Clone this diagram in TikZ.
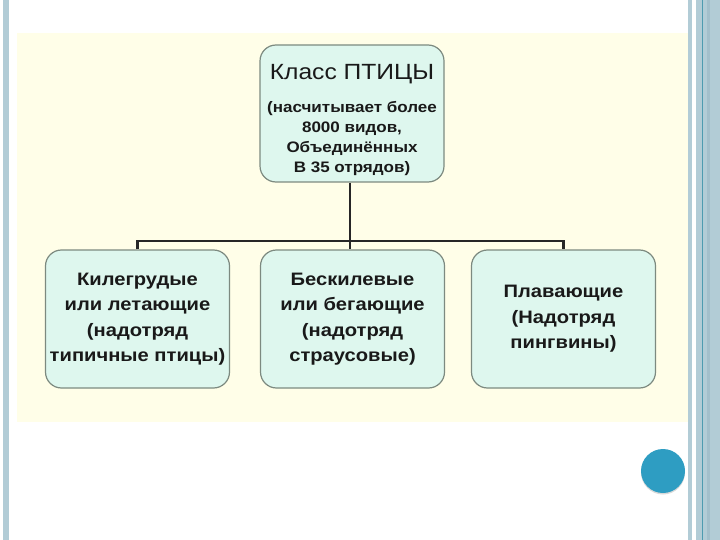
\documentclass[tikz,border=0pt]{standalone}
\usepackage{fontspec}
\setmainfont{Liberation Sans}
\newfontfamily\widefont[FakeStretch=1.12]{Liberation Sans}
\definecolor{barblue}{HTML}{B2CCD6}
\definecolor{bardark}{HTML}{4E9BB0}
\definecolor{barmid}{HTML}{A3BFCB}
\definecolor{paleyellow}{HTML}{FFFEE8}
\definecolor{boxfill}{HTML}{DEF7EE}
\definecolor{boxline}{HTML}{7D8A80}
\definecolor{dotblue}{HTML}{2E9DC2}
\tikzset{
  birdbox/.style={draw=boxline, line width=1.2pt, fill=boxfill, rounded corners=16pt,
    minimum width=184pt, minimum height=138pt, align=center, inner sep=0pt,
    text=black!90, font=\widefont\fontsize{18}{25.5}\selectfont\bfseries},
  topbox/.style={birdbox, minimum height=137pt},
  link/.style={draw=black!85, line width=2.6pt}
}
\newcommand{\smallline}[1]{{\fontsize{15.2}{20}\selectfont #1}}
\begin{document}
\begin{tikzpicture}[x=1pt,y=-1pt]
\useasboundingbox (0,0) rectangle (720,540);
\fill[white] (0,0) rectangle (720,540);
% side bars
\fill[barblue] (3,0) rectangle (9,540);
\fill[barblue] (688,0) rectangle (692,540);
\fill[barblue] (696,0) rectangle (720,540);
\fill[bardark] (701.7,0) rectangle (703.3,540);
\fill[barmid] (706.5,0) rectangle (710,540);
% pale area
\fill[paleyellow] (17,33) rectangle (688,422);
% nodes
\node[topbox] (top) at (352,113.5) {\rule{0pt}{28pt}{\fontsize{22}{24}\selectfont\mdseries Класс ПТИЦЫ}\\[7pt]
  \smallline{(насчитывает более}\\[-5.5pt]
  \smallline{8000 видов,}\\[-5.5pt]
  \smallline{Объединённых}\\[-5.5pt]
  \smallline{В 35 отрядов)}};
\node[birdbox] (left) at (137.5,319) {Килегрудые\\или летающие\\(надотряд\\типичные птицы)};
\node[birdbox] (mid) at (352.5,319) {Бескилевые\\или бегающие\\(надотряд\\страусовые)};
\node[birdbox] (right) at (563.5,319) {Плавающие\\(Надотряд\\пингвины)};
\coordinate (fork) at (350,241);
\draw[link] (top.south -| fork) -- (fork);
\draw[link] (left.north) |- (fork) -| (right.north);
\draw[link] (fork) -- (fork |- mid.north);
% circle
\fill[black!15] (663,472.5) circle (22);
\fill[dotblue] (663,471) circle (22);
\end{tikzpicture}
\end{document}
